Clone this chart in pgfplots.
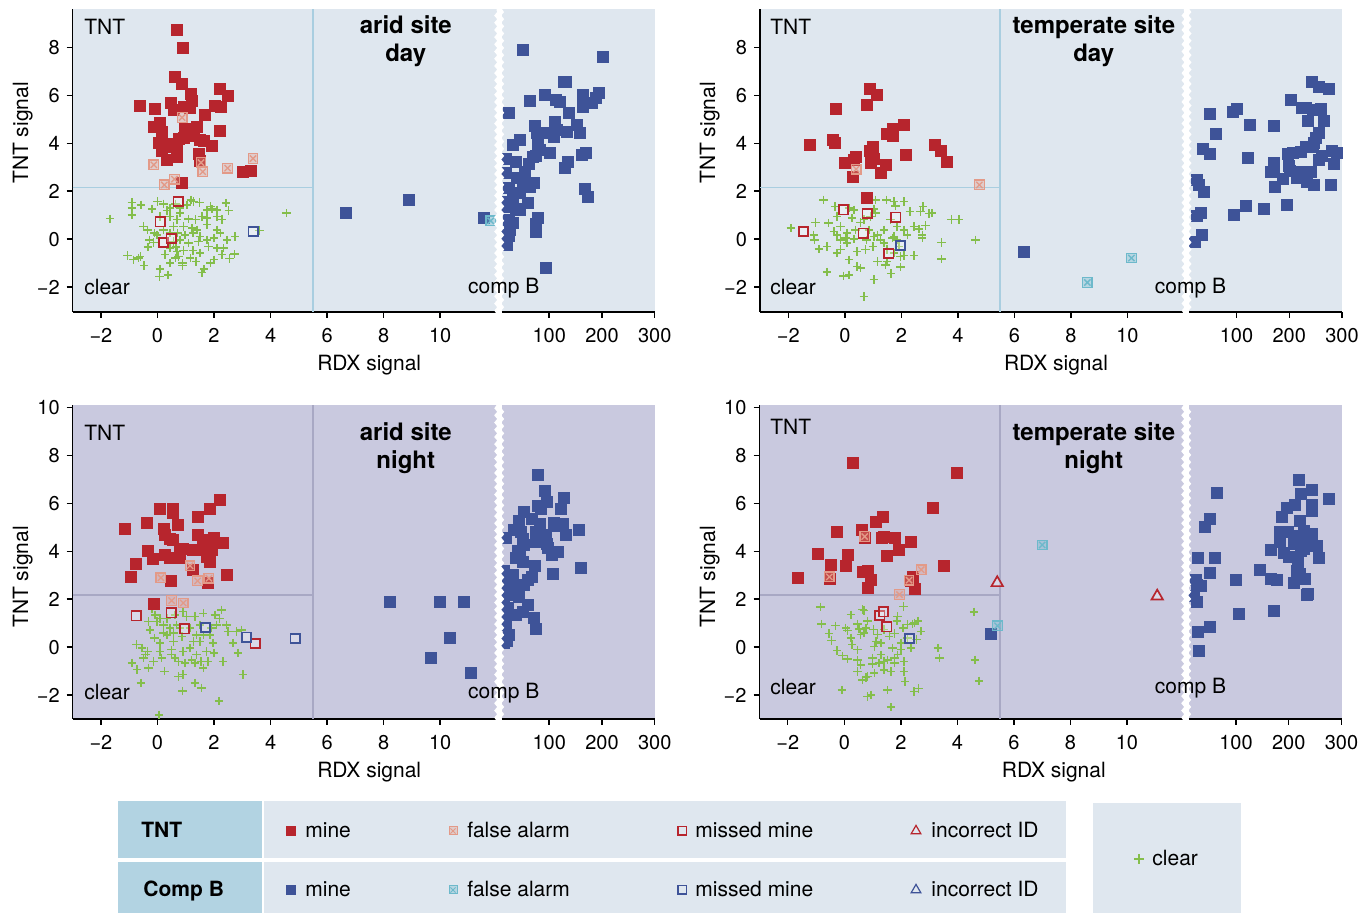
\documentclass[border=0pt]{standalone}
\usepackage{fontspec}
\setmainfont{TeX Gyre Heros}
\usepackage{pgfplots}
\pgfplotsset{compat=1.18}
\usetikzlibrary{decorations.pathmorphing}

\definecolor{bgday}{HTML}{DFE7EF}
\definecolor{bgnight}{HTML}{C9C9DF}
\definecolor{thrday}{HTML}{A9CEE0}
\definecolor{thrnight}{HTML}{A8A8C4}
\definecolor{tntred}{HTML}{B7252D}
\definecolor{tntfa}{HTML}{E39A88}
\definecolor{cbblue}{HTML}{3E5398}
\definecolor{cbfa}{HTML}{6DB9CB}
\definecolor{clr}{HTML}{84BE4B}
\definecolor{lghead}{HTML}{B2D3E2}

% square with a cross, for false alarms
\pgfdeclareplotmark{boxx}{%
  \pgfpathrectangle{\pgfqpoint{-\pgfplotmarksize}{-\pgfplotmarksize}}{\pgfqpoint{2\pgfplotmarksize}{2\pgfplotmarksize}}%
  \pgfusepathqfillstroke
  \pgfpathmoveto{\pgfqpoint{-0.65\pgfplotmarksize}{-0.65\pgfplotmarksize}}%
  \pgfpathlineto{\pgfqpoint{0.65\pgfplotmarksize}{0.65\pgfplotmarksize}}%
  \pgfpathmoveto{\pgfqpoint{-0.65\pgfplotmarksize}{0.65\pgfplotmarksize}}%
  \pgfpathlineto{\pgfqpoint{0.65\pgfplotmarksize}{-0.65\pgfplotmarksize}}%
  \pgfusepathqstroke
}

\pgfplotsset{
  base/.style={scale only axis, clip=false,
    axis line style={-, line width=0.7pt}, x axis line style={-}, y axis line style={-},
    tick style={black, line width=0.7pt}, major tick length=3pt, tick align=outside,
    tick label style={font=\fontsize{10}{12}\selectfont},
    xticklabel style={yshift=-1.5pt}},
  leftpart/.style={base, width=212pt, xmin=-3, xmax=12,
    axis x line*=bottom, axis y line*=left,
    xtick={-2,0,2,4,6,8,10}, xticklabels={−2,0,2,4,6,8,10}},
  rightpart/.style={base, width=76.5pt, xmin=10, xmax=300,
    axis x line*=bottom, axis y line=none,
    xtick={100,200,300}, xticklabels={100,200,300}},
  toprow/.style={height=151.5pt, ymin=-3.04, ymax=9.6,
    ytick={-2,0,2,4,6,8}, yticklabels={−2,0,2,4,6,8},
    axis background/.style={fill=bgday}},
  botrow/.style={height=157pt, ymin=-3, ymax=10.1,
    ytick={-2,0,2,4,6,8,10}, yticklabels={−2,0,2,4,6,8,10},
    axis background/.style={fill=bgnight}},
  tntmine/.style={only marks, mark=square*, mark size=2.75pt, color=tntred},
  cbmine/.style={only marks, mark=square*, mark size=2.75pt, color=cbblue},
  tntfa/.style={only marks, mark=boxx, mark size=2.4pt, color=tntfa,
    mark options={fill=tntfa, fill opacity=0.35, line width=0.65pt}},
  cbfa/.style={only marks, mark=boxx, mark size=2.4pt, color=cbfa,
    mark options={fill=cbfa, fill opacity=0.35, line width=0.65pt}},
  tntmiss/.style={only marks, mark=square*, mark size=2.3pt, color=tntred,
    mark options={fill=white, fill opacity=0.3, line width=0.9pt}},
  cbmiss/.style={only marks, mark=square*, mark size=2.3pt, color=cbblue,
    mark options={fill=white, fill opacity=0.3, line width=0.9pt}},
  tntinc/.style={only marks, mark=triangle*, mark size=3.3pt, color=tntred,
    mark options={fill=white, fill opacity=0.3, line width=0.85pt}},
  clear/.style={only marks, mark=+, mark size=2.1pt, color=clr,
    mark options={draw=clr, line width=0.75pt, line cap=butt}},
}

\newcommand{\lbl}{\fontsize{10.5}{12.6}\selectfont}
\newcommand{\ttl}{\fontsize{12}{14}\selectfont\bfseries}

\begin{document}
\begin{tikzpicture}
\useasboundingbox (0,0) rectangle (685pt,456.5pt);

%================ arid site, day ================
\begin{axis}[leftpart, toprow, at={(36.35pt,300.5pt)}, anchor=south west]
\addplot[thrday, line width=0.9pt, mark=none] coordinates {(5.5,-3.04) (5.5,9.6)};
\addplot[thrday, line width=0.9pt, mark=none] coordinates {(-3,2.15) (5.5,2.15)};
\addplot[clear] coordinates {(-1.68,0.85) (-0.91,1.53) (-0.59,1.43) (-0.91,1.29) (-0.91,1.01) (0.0,1.57) (-0.19,1.25) (0.33,1.19) (0.63,1.47) (1.04,1.43) (1.18,1.64) (1.28,1.57) (1.49,1.53) (1.87,1.36) (1.93,1.25) (2.43,1.50) (2.52,1.19) (2.10,0.94) (2.28,0.81) (1.75,0.88) (1.57,0.94) (1.34,0.81) (1.10,0.83) (0.80,1.08) (0.69,0.81) (0.45,0.94) (0.09,0.94) (-0.50,0.53) (-0.35,0.39) (0.57,0.53) (0.92,0.53) (1.22,0.46) (1.39,0.39) (1.75,0.60) (2.10,0.39) (2.22,0.25) (1.99,0.04) (1.75,-0.03) (1.51,0.11) (1.25,0.25) (0.98,0.18) (0.71,0.25) (0.45,0.25) (-0.28,-0.03) (-0.14,-0.14) (-0.33,-0.33) (0.66,-0.33) (0.45,-0.38) (0.69,-0.51) (0.92,-0.47) (1.25,-0.47) (1.51,-0.58) (2.34,-0.38) (2.75,0.11) (3.61,0.36) (4.57,1.08) (-1.06,-0.69) (-0.85,-0.86) (-0.67,-0.79) (-0.47,-1.10) (0.09,-1.25) (0.07,-1.56) (0.37,-1.50) (0.45,-1.00) (0.63,-0.79) (0.89,-1.00) (0.89,-1.10) (1.37,-0.94) (1.57,-1.39) (1.65,-1.25) (1.87,-1.00) (1.99,-0.86) (2.28,-0.65) (2.55,-0.81) (2.72,-0.63) (0.27,-0.65) (0.74,-0.72) (0.21,0.39) (-0.02,0.18) (1.10,-0.17) (1.81,-0.31) (2.10,-0.38) (2.46,-0.03) (1.45,-0.10) (0.80,-0.03) (0.57,-0.10) (1.16,-0.79) (2.10,1.22) (1.75,1.22) (0.80,1.29) (0.45,1.29) (0.21,1.47) (-0.11,0.25) (-0.61,-0.72)};
\addplot[tntmine] coordinates {(0.69,8.72) (0.90,7.99) (0.61,6.76) (0.86,6.47) (2.22,6.28) (2.49,5.97) (1.18,6.04) (1.22,5.78) (0.47,5.69) (-0.63,5.56) (-0.08,5.44) (0.57,5.39) (0.92,5.53) (1.16,5.46) (2.02,5.57) (2.25,5.53) (1.68,5.18) (0.07,4.86) (-0.11,4.69) (0.09,4.69) (0.14,4.49) (0.98,4.61) (1.39,4.68) (2.21,4.51) (0.74,4.18) (0.92,4.21) (1.22,4.31) (1.51,4.14) (1.63,4.11) (0.06,4.00) (0.33,3.97) (1.93,3.90) (0.15,3.69) (0.69,3.68) (0.35,3.31) (0.69,3.42) (1.45,3.56) (1.49,3.28) (3.01,2.81) (3.29,2.86) (0.86,2.36) (0.57,3.86) (1.28,4.42)};
\addplot[tntfa] coordinates {(0.87,5.07) (-0.13,3.10) (0.60,2.50) (0.24,2.26) (1.54,3.19) (1.60,2.81) (2.48,2.96) (3.38,3.36)};
\addplot[tntmiss] coordinates {(0.73,1.57) (0.09,0.72) (0.21,-0.14) (0.48,0.03)};
\addplot[cbmiss] coordinates {(3.38,0.31)};
\addplot[cbmine] coordinates {(6.67,1.08) (8.90,1.64) (11.55,0.88)};
\addplot[cbfa] coordinates {(11.79,0.76)};
\end{axis}
\begin{axis}[rightpart, toprow, at={(250.85pt,300.5pt)}, anchor=south west]
\addplot[cbmine] coordinates {(51.1,7.89) (202.2,7.61) (127.3,6.54) (132.4,6.57) (92.4,6.03) (112.7,5.81) (119.7,5.74) (164.1,6.03) (194.6,6.11) (187.6,5.88) (181.3,5.67) (164.1,5.50) (62.5,5.76) (23.2,5.25) (136.8,5.25) (111.4,4.90) (73.3,4.72) (76.5,4.44) (92.4,4.44) (108.3,4.28) (114.6,4.56) (133.7,4.49) (152.7,4.76) (157.8,4.44) (44.8,4.14) (32.1,3.93) (77.8,3.97) (82.9,3.72) (101.9,3.61) (75.2,3.47) (68.9,3.44) (162.2,3.51) (170.5,3.61) (18.1,3.35) (37.1,3.21) (60.6,3.13) (134.9,3.21) (130.5,2.96) (54.9,2.82) (17.5,2.75) (38.4,2.57) (51.1,2.40) (70.2,2.33) (63.8,2.19) (23.2,2.15) (44.8,1.94) (168.6,2.08) (173.1,1.74) (32.1,1.71) (22.6,1.57) (58.7,1.50) (14.2,1.36) (37.1,1.26) (44.8,1.22) (77.8,0.88) (23.8,0.81) (32.1,0.69) (74.0,0.64) (25.7,0.39) (74.6,0.32) (14.2,0.18) (24.4,0.14) (19.2,-0.24) (94.3,-1.21)};
\end{axis}

%================ temperate site, day ================
\begin{axis}[leftpart, toprow, at={(380pt,300.5pt)}, anchor=south west]
\addplot[thrday, line width=0.9pt, mark=none] coordinates {(5.5,-3.04) (5.5,9.6)};
\addplot[thrday, line width=0.9pt, mark=none] coordinates {(-3,2.15) (5.5,2.15)};
\addplot[clear] coordinates {(-1.91,0.46) (-0.76,1.64) (-1.04,0.69) (-0.57,0.67) (-0.27,0.94) (-0.35,1.36) (0.14,1.29) (0.32,1.22) (0.26,0.88) (-0.15,0.53) (-1.10,0.18) (-1.07,-0.03) (-0.92,-0.42) (-0.27,0.18) (-0.15,-0.03) (0.02,0.04) (0.08,-0.17) (-0.15,-0.44) (0.14,-0.86) (-0.04,-1.53) (0.14,-1.50) (0.44,-1.14) (0.55,-1.21) (-0.63,-1.38) (0.67,-2.39) (1.03,-1.69) (1.15,-0.93) (1.44,-1.07) (1.50,-0.93) (1.64,-1.44) (1.97,-1.17) (2.09,-0.69) (2.44,-0.69) (1.97,-0.72) (1.91,-0.31) (1.85,-0.03) (1.68,0.04) (1.38,-0.17) (1.38,0.39) (1.74,0.11) (2.09,0.39) (2.21,0.18) (2.44,0.53) (2.62,0.42) (2.74,0.04) (2.74,0.18) (2.86,0.56) (2.77,1.36) (2.68,1.15) (2.98,1.06) (3.09,1.08) (2.30,1.15) (2.09,1.57) (1.79,1.39) (1.74,1.57) (1.48,1.64) (1.09,1.64) (1.03,1.25) (0.91,0.94) (1.09,1.08) (0.67,0.81) (0.55,0.69) (0.38,0.39) (0.32,0.0) (0.77,-0.03) (1.03,0.11) (1.15,0.18) (1.0,-0.31) (0.73,-0.44) (1.26,-0.03) (1.62,0.81) (1.85,0.53) (3.42,-0.14) (3.42,-0.83) (3.78,0.81) (4.04,0.81) (4.63,-0.03) (-0.63,-0.31) (-0.39,0.32) (0.08,0.25) (0.85,0.39) (1.50,-0.44) (1.74,-0.58) (0.44,-0.51) (-0.27,-0.58)};
\addplot[tntmine] coordinates {(0.87,6.25) (1.12,6.01) (0.79,5.60) (-0.30,5.43) (2.09,4.76) (1.71,4.58) (1.50,4.38) (1.70,4.31) (-1.25,3.93) (-0.43,4.14) (-0.35,4.03) (3.18,3.93) (3.39,3.69) (3.60,3.22) (1.0,3.86) (0.87,3.69) (2.17,3.51) (0.40,3.44) (0.32,3.31) (0.0,3.17) (1.03,3.33) (0.91,3.19) (1.46,3.10) (1.29,2.78) (0.27,2.61) (0.79,1.71)};
\addplot[tntfa] coordinates {(0.40,2.92) (4.76,2.26)};
\addplot[tntmiss] coordinates {(-1.46,0.32) (-0.05,1.22) (0.79,1.08) (1.81,0.92) (0.65,0.25) (1.56,-0.61)};
\addplot[cbmiss] coordinates {(1.98,-0.26)};
\addplot[cbmine] coordinates {(6.32,-0.54)};
\addplot[cbfa] coordinates {(10.14,-0.79) (8.58,-1.81)};
\end{axis}
\begin{axis}[rightpart, toprow, at={(594.5pt,300.5pt)}, anchor=south west]
\addplot[cbmine] coordinates {(243.2,6.57) (256.5,6.33) (276.0,6.25) (203.5,5.79) (224.9,5.46) (231.2,5.49) (243.9,5.39) (260.9,5.42) (93.7,5.29) (100.6,5.42) (236.2,4.94) (266.0,4.94) (48.9,5.21) (125.9,4.75) (171.3,4.72) (60.9,4.39) (256.5,4.44) (250.2,4.21) (247.0,4.03) (36.9,3.76) (50.2,3.54) (121.5,3.39) (196.6,3.56) (206.0,3.58) (221.8,3.65) (231.2,3.86) (243.9,3.86) (281.7,3.69) (291.2,3.58) (262.8,3.47) (256.5,3.31) (284.9,3.14) (170.1,3.17) (171.3,2.96) (165.0,2.82) (198.5,3.07) (201.6,2.86) (221.8,2.82) (240.7,2.82) (187.1,2.51) (214.2,2.54) (234.3,2.40) (245.8,2.26) (278.6,2.26) (172.6,2.17) (24.3,2.47) (29.3,2.26) (38.8,1.99) (117.7,1.39) (151.1,1.25) (195.3,1.43) (95.6,1.01) (32.5,1.11) (24.3,0.97) (34.4,0.17) (21.8,-0.13)};
\end{axis}

%================ arid site, night ================
\begin{axis}[leftpart, botrow, at={(36.35pt,97pt)}, anchor=south west]
\addplot[thrnight, line width=0.9pt, mark=none] coordinates {(5.5,-3) (5.5,10.1)};
\addplot[thrnight, line width=0.9pt, mark=none] coordinates {(-3,2.16) (5.5,2.16)};
\addplot[clear] coordinates {(-0.20,1.58) (-0.08,1.34) (-0.32,1.07) (0.09,1.20) (0.33,1.20) (0.62,1.34) (0.91,1.48) (1.03,1.27) (1.32,1.27) (1.62,1.41) (2.03,1.34) (2.26,1.55) (2.20,1.20) (2.44,0.93) (2.50,0.65) (2.79,0.65) (2.97,0.72) (2.67,0.17) (2.85,-0.25) (2.32,-0.60) (1.97,0.17) (1.85,0.51) (1.62,0.51) (1.38,0.51) (1.15,0.79) (0.68,0.93) (0.45,0.79) (0.21,0.93) (-0.02,1.07) (-0.26,0.72) (-0.11,0.37) (0.09,0.17) (0.33,0.51) (0.56,0.24) (0.86,0.44) (1.27,0.24) (1.50,0.24) (1.74,-0.18) (1.99,-0.25) (1.54,-0.60) (1.62,-0.87) (1.32,-0.66) (0.97,-0.66) (0.74,-0.60) (0.62,-0.46) (0.50,-0.32) (0.15,-0.46) (-0.14,-0.60) (-0.35,-0.18) (-0.55,-0.04) (-0.75,0.10) (-0.49,-0.46) (-0.90,-0.66) (-0.73,-0.94) (-0.59,-1.50) (0.25,-1.01) (0.74,-1.22) (0.91,-1.15) (1.32,-1.50) (1.56,-1.70) (0.89,-1.84) (2.18,-2.26) (3.02,-1.15) (0.05,-2.84) (1.15,-0.04) (1.38,-0.32) (1.79,-0.60) (-0.32,-0.87) (-0.43,-0.32) (0.09,-0.18) (0.50,-0.11) (0.91,-0.18) (1.21,-0.53) (2.09,0.93) (1.91,0.79) (1.50,0.93) (0.80,0.79) (0.56,0.58) (0.21,0.58)};
\addplot[tntmine] coordinates {(2.20,6.12) (0.09,5.75) (0.56,5.78) (0.53,5.61) (1.85,5.76) (1.44,5.43) (-0.38,5.18) (0.72,5.08) (-1.14,4.92) (0.23,4.94) (0.27,4.67) (0.45,4.53) (0.56,4.46) (1.42,4.67) (1.62,4.46) (1.99,4.56) (2.32,4.35) (0.80,4.11) (0.89,4.11) (1.27,4.04) (1.50,4.04) (1.91,4.04) (-0.34,4.02) (0.27,3.86) (-0.16,3.67) (0.45,3.70) (0.68,3.73) (0.80,3.70) (1.74,3.77) (1.85,3.56) (-0.75,3.46) (1.24,3.21) (2.44,3.01) (-0.94,2.92) (0.47,2.76) (1.79,2.66) (-0.12,1.80)};
\addplot[tntfa] coordinates {(1.15,3.39) (0.12,2.89) (1.42,2.76) (1.82,2.87) (0.50,1.94) (0.91,1.84)};
\addplot[tntmiss] coordinates {(-0.76,1.30) (0.48,1.43) (0.96,0.76) (3.45,0.15)};
\addplot[cbmiss] coordinates {(1.70,0.82) (3.14,0.42) (4.87,0.35)};
\addplot[cbmine] coordinates {(8.22,1.90) (10.0,1.90) (10.85,1.90) (10.34,0.40) (9.66,-0.44) (11.09,-1.08)};
\end{axis}
\begin{axis}[rightpart, botrow, at={(250.85pt,97pt)}, anchor=south west]
\addplot[cbmine] coordinates {(78.5,7.20) (91.8,6.51) (128.5,6.23) (79.1,5.91) (95.6,6.05) (84.2,5.78) (121.5,5.75) (52.5,5.66) (67.1,5.36) (41.8,5.25) (82.9,5.15) (108.2,5.18) (126.6,5.15) (114.6,5.04) (157.0,4.88) (131.7,4.67) (17.7,4.57) (33.5,4.88) (46.2,4.81) (49.4,4.53) (52.5,4.25) (74.2,4.81) (80.5,4.67) (93.1,4.67) (75.5,4.39) (94.9,4.32) (98.1,4.14) (104.4,3.86) (117.1,3.95) (39.9,4.02) (45.0,3.84) (36.7,3.70) (49.4,3.56) (73.4,3.39) (160.8,3.31) (106.3,3.07) (14.5,3.17) (31.3,3.01) (66.5,2.94) (58.9,2.80) (52.5,2.59) (20.9,2.66) (12.6,2.38) (30.0,2.38) (39.9,2.52) (20.9,2.17) (42.4,2.11) (14.5,1.76) (20.9,1.62) (36.7,1.34) (49.4,1.48) (58.9,1.76) (71.5,1.20) (75.3,0.76) (15.8,1.27) (17.7,0.93) (22.8,0.51) (14.5,0.17) (19.6,0.24)};
\end{axis}

%================ temperate site, night ================
\begin{axis}[leftpart, botrow, at={(379.75pt,97pt)}, anchor=south west]
\addplot[thrnight, line width=0.9pt, mark=none] coordinates {(5.5,-3) (5.5,10.1)};
\addplot[thrnight, line width=0.9pt, mark=none] coordinates {(-3,2.18) (5.5,2.18)};
\addplot[clear] coordinates {(-0.84,1.68) (-0.81,0.96) (-0.31,0.89) (-0.55,0.56) (-0.45,0.27) (-0.25,-0.14) (-0.07,-0.36) (0.11,-0.50) (0.23,1.35) (0.46,0.96) (0.52,0.75) (0.58,0.52) (0.64,1.56) (0.70,1.52) (0.82,1.08) (0.76,0.80) (1.03,0.73) (1.12,0.24) (1.18,0.52) (1.41,0.73) (1.59,0.45) (1.77,0.56) (1.86,1.08) (1.88,1.28) (2.09,1.70) (2.07,0.80) (2.24,0.94) (2.42,0.96) (2.48,1.01) (2.60,1.08) (2.72,0.66) (2.56,0.31) (2.24,0.38) (2.01,-0.11) (1.89,-0.32) (1.77,-0.46) (1.53,-0.53) (1.41,-0.60) (1.29,-0.32) (1.06,0.03) (1.0,-0.46) (1.0,-0.71) (1.06,-1.09) (0.76,-1.27) (0.64,-1.37) (0.58,-0.74) (0.46,-0.53) (0.46,-0.11) (0.23,0.38) (0.11,0.70) (0.05,0.80) (0.28,0.10) (0.46,-1.02) (0.82,-1.23) (1.41,-0.95) (1.65,-1.02) (2.12,-1.02) (2.15,-1.44) (2.46,-1.86) (2.62,-1.72) (1.53,-1.79) (0.94,-2.0) (0.82,-2.07) (1.65,-2.51) (-0.09,-1.79) (3.31,-0.04) (3.37,-0.46) (4.59,1.47) (4.62,-0.53) (4.77,-1.41) (0.70,0.59) (1.29,0.17) (1.71,-0.04) (2.01,0.17) (2.36,-0.04) (1.77,-0.67) (2.12,-0.60) (1.23,-0.67)};
\addplot[tntmine] coordinates {(0.30,7.68) (4.0,7.26) (3.13,5.80) (1.35,5.43) (1.12,5.24) (-0.27,4.80) (0.62,4.87) (0.72,4.54) (1.41,4.61) (1.32,4.54) (1.80,4.54) (2.36,4.39) (1.93,4.04) (-0.93,3.90) (0.11,3.83) (1.50,3.80) (-0.46,3.42) (0.07,3.37) (3.53,3.37) (-1.64,2.89) (-0.51,2.86) (0.66,3.14) (0.85,3.17) (0.94,2.79) (2.42,2.92) (2.36,2.75) (2.48,2.43) (0.85,2.47)};
\addplot[tntfa] coordinates {(0.72,4.61) (-0.53,2.93) (2.72,3.23) (2.29,2.79) (1.95,2.19)};
\addplot[tntmiss] coordinates {(1.26,1.31) (1.39,1.47) (1.51,0.84)};
\addplot[cbmiss] coordinates {(2.31,0.35)};
\addplot[cbmine] coordinates {(5.19,0.54)};
\addplot[cbfa] coordinates {(5.42,0.89) (7.0,4.26)};
\addplot[tntinc] coordinates {(5.41,2.68) (11.07,2.12)};
\end{axis}
\begin{axis}[rightpart, botrow, at={(594.25pt,97pt)}, anchor=south west]
\addplot[cbmine] coordinates {(219.8,6.97) (244.6,6.56) (222.3,6.41) (275.2,6.20) (63.1,6.45) (195.6,5.82) (211.5,5.92) (244.6,5.92) (244.6,5.68) (186.1,5.45) (221.0,5.27) (50.3,5.36) (40.8,5.01) (182.9,4.82) (198.1,4.82) (212.7,4.64) (228.7,4.85) (244.6,4.71) (209.6,4.29) (222.3,4.43) (235.0,4.22) (252.9,4.22) (184.1,4.39) (166.2,4.05) (190.5,3.91) (200.0,3.76) (228.7,4.08) (257.3,3.73) (222.3,4.01) (217.2,3.52) (214.6,3.17) (220.4,3.07) (229.9,2.86) (177.7,2.79) (166.2,2.86) (209.6,2.68) (144.6,3.24) (100.0,2.79) (235.0,2.19) (237.0,2.23) (171.3,1.52) (105.1,1.38) (28.0,3.70) (59.2,3.70) (50.9,3.09) (24.8,2.82) (34.4,2.54) (26.1,2.61) (19.7,2.12) (26.1,1.89) (50.3,0.84) (27.4,0.63) (30.6,-0.18)};
\end{axis}

% axis breaks
\foreach \bx/\by/\bh in {249.6/300/152.2, 593.25/300/152.2, 249.6/96.5/157.7, 593.1/96.5/157.7}{
  \draw[white, line width=2.7pt, decorate, decoration={snake, amplitude=0.75pt, segment length=3.6pt}]
    (\bx pt,\by pt) -- ++(0,\bh pt);
}

% panel texts
\foreach \px/\py/\ta/\tb in {202.9/300/arid site/day, 546.9/300/temperate site/day, 202.9/96.5/arid site/night, 546.9/96.5/temperate site/night}{
  \node[anchor=base, inner sep=0pt, font=\ttl] at (\px pt,\py pt+139.5pt) {\ta};
  \node[anchor=base, inner sep=0pt, font=\ttl] at (\px pt,\py pt+125.5pt) {\tb};
}
\node[anchor=base west, inner sep=0pt, font=\lbl] at (42pt,439pt) {TNT};
\node[anchor=base west, inner sep=0pt, font=\lbl] at (42pt,309pt) {clear};
\node[anchor=base, inner sep=0pt, font=\lbl] at (251.9pt,309.8pt) {comp B};
\node[anchor=base west, inner sep=0pt, font=\lbl] at (385pt,439pt) {TNT};
\node[anchor=base west, inner sep=0pt, font=\lbl] at (385pt,309pt) {clear};
\node[anchor=base, inner sep=0pt, font=\lbl] at (595.25pt,309.8pt) {comp B};
\node[anchor=base west, inner sep=0pt, font=\lbl] at (42pt,236.2pt) {TNT};
\node[anchor=base west, inner sep=0pt, font=\lbl] at (42pt,106.5pt) {clear};
\node[anchor=base, inner sep=0pt, font=\lbl] at (251.9pt,107pt) {comp B};
\node[anchor=base west, inner sep=0pt, font=\lbl] at (385pt,239pt) {TNT};
\node[anchor=base west, inner sep=0pt, font=\lbl] at (385pt,109.3pt) {clear};
\node[anchor=base, inner sep=0pt, font=\lbl] at (595.25pt,109.5pt) {comp B};

% axis labels
\foreach \lx/\ly in {184.6/271, 528/271, 184.6/67.5, 526.9/67.5}{
  \node[anchor=base, inner sep=0pt, font=\lbl] at (\lx pt,\ly pt) {RDX signal};
}
\foreach \lx/\ly in {14/390, 357.5/390, 14/168, 357.5/168}{
  \node[anchor=base, inner sep=0pt, rotate=90, font=\lbl] at (\lx pt,\ly pt) {TNT signal};
}

% legend
\fill[lghead] (59pt,27.5pt) rectangle (131pt,56pt);
\fill[lghead] (59pt,0pt) rectangle (131pt,25.5pt);
\fill[bgday] (132pt,27.5pt) rectangle (533pt,56pt);
\fill[bgday] (132pt,0pt) rectangle (533pt,25.5pt);
\fill[bgday] (546.5pt,0pt) rectangle (620.5pt,55pt);
\node[anchor=base west, inner sep=0pt, font=\lbl\bfseries] at (70.5pt,37.5pt) {TNT};
\node[anchor=base west, inner sep=0pt, font=\lbl\bfseries] at (71.5pt,8pt) {Comp B};
\foreach \ly/\lt in {37.5/0, 8/1}{
  \node[anchor=base west, inner sep=0pt, font=\lbl] at (152.5pt,\ly pt) {mine};
  \node[anchor=base west, inner sep=0pt, font=\lbl] at (233.5pt,\ly pt) {false alarm};
  \node[anchor=base west, inner sep=0pt, font=\lbl] at (347.5pt,\ly pt) {missed mine};
  \node[anchor=base west, inner sep=0pt, font=\lbl] at (465.5pt,\ly pt) {incorrect ID};
}
\path[tntred, fill=tntred] plot[mark=square*, mark size=2.4pt] coordinates {(145.5pt,41pt)};
\path[cbblue, fill=cbblue] plot[mark=square*, mark size=2.4pt] coordinates {(145.5pt,11.5pt)};
\path[tntfa, fill=tntfa, line width=0.5pt] plot[mark=boxx, mark size=2pt, mark options={fill opacity=0.35}] coordinates {(226.5pt,41pt)};
\path[cbfa, fill=cbfa, line width=0.5pt] plot[mark=boxx, mark size=2pt, mark options={fill opacity=0.35}] coordinates {(226.5pt,11.5pt)};
\path[tntred, line width=0.7pt] plot[mark=square, mark size=2.1pt] coordinates {(341pt,41pt)};
\path[cbblue, line width=0.7pt] plot[mark=square, mark size=2.1pt] coordinates {(341pt,11.5pt)};
\path[tntred, line width=0.6pt] plot[mark=triangle, mark size=2.8pt] coordinates {(458pt,41pt)};
\path[cbblue, line width=0.6pt] plot[mark=triangle, mark size=2.8pt] coordinates {(458pt,11.5pt)};
\path[clr, line width=0.6pt] plot[mark=+, mark size=2.4pt] coordinates {(569.5pt,27pt)};
\node[anchor=base west, inner sep=0pt, font=\lbl] at (576pt,23.5pt) {clear};
\end{tikzpicture}
\end{document}
